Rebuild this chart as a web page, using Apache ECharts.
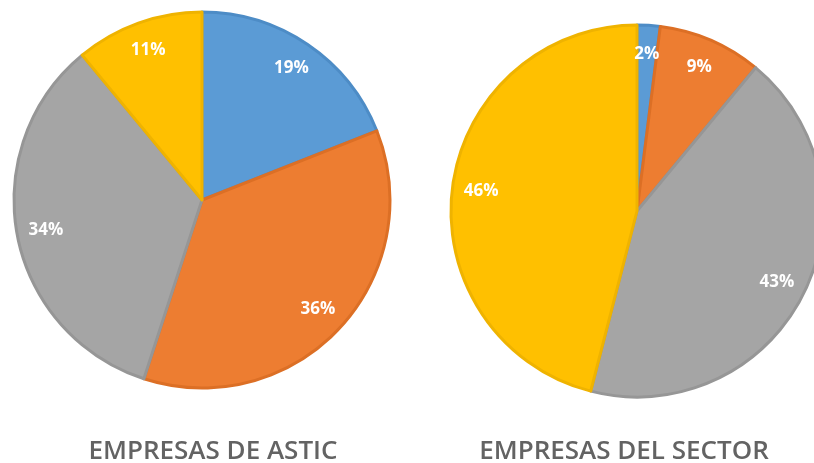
<!DOCTYPE html>
<html>
<head>
<meta charset="utf-8">
<script src="https://cdn.jsdelivr.net/npm/echarts@6/dist/echarts.min.js"></script>
<style>
html,body{margin:0;padding:0;background:#fff;}
#chart{width:814px;height:463px;}
</style>
</head>
<body>
<div id="chart"></div>
<script>
// Data
var categories = ['Azul', 'Naranja', 'Gris', 'Amarillo'];
var asticValues = [19, 36, 34, 11];
var sectorValues = [2, 9, 43, 46];
var chartTitles = ['EMPRESAS DE ASTIC', 'EMPRESAS DEL SECTOR'];

var colors = ['#5b9bd5', '#ed7d31', '#a5a5a5', '#ffc000'];
var borders = ['#4d8cc6', '#dc6f25', '#969696', '#efb300'];

function mk(values) {
  return categories.map(function (c, i) {
    return { name: c, value: values[i], itemStyle: { color: colors[i], borderColor: borders[i] } };
  });
}
function mkLabels(values) {
  return categories.map(function (c, i) {
    return { name: c, value: values[i] };
  });
}

var labelStyle = {
  show: true,
  position: 'inside',
  formatter: '{c}%',
  color: '#ffffff',
  fontFamily: 'Open Sans',
  fontWeight: 'bold',
  fontSize: 17
};

var chart = echarts.init(document.getElementById('chart'), null, { renderer: 'canvas' });
chart.setOption({
  backgroundColor: '#ffffff',
  animation: false,
  series: [
    {
      type: 'pie', center: [202, 200], radius: [0, 188], startAngle: 90, clockwise: true,
      silent: true, label: { show: false }, labelLine: { show: false },
      itemStyle: { borderWidth: 3 },
      data: mk(asticValues)
    },
    {
      type: 'pie', center: [202, 200], radius: [137, 175], startAngle: 90, clockwise: true,
      silent: true, itemStyle: { color: 'rgba(0,0,0,0)', borderWidth: 0 },
      label: labelStyle, labelLine: { show: false },
      data: mkLabels(asticValues)
    },
    {
      type: 'pie', center: [637, 211], radius: [0, 186], startAngle: 90, clockwise: true,
      silent: true, label: { show: false }, labelLine: { show: false },
      itemStyle: { borderWidth: 3 },
      data: mk(sectorValues)
    },
    {
      type: 'pie', center: [637, 211], radius: [136, 172], startAngle: 90, clockwise: true,
      silent: true, itemStyle: { color: 'rgba(0,0,0,0)', borderWidth: 0 },
      label: labelStyle, labelLine: { show: false },
      data: mkLabels(sectorValues)
    }
  ],
  graphic: [
    { type: 'text', x: 213, y: 452, style: { text: chartTitles[0], textAlign: 'center', textVerticalAlign: 'middle', font: '600 26px "Open Sans"', fill: '#636363' } },
    { type: 'text', x: 624, y: 452, style: { text: chartTitles[1], textAlign: 'center', textVerticalAlign: 'middle', font: '600 26px "Open Sans"', fill: '#636363' } }
  ]
});
</script>
</body>
</html>
